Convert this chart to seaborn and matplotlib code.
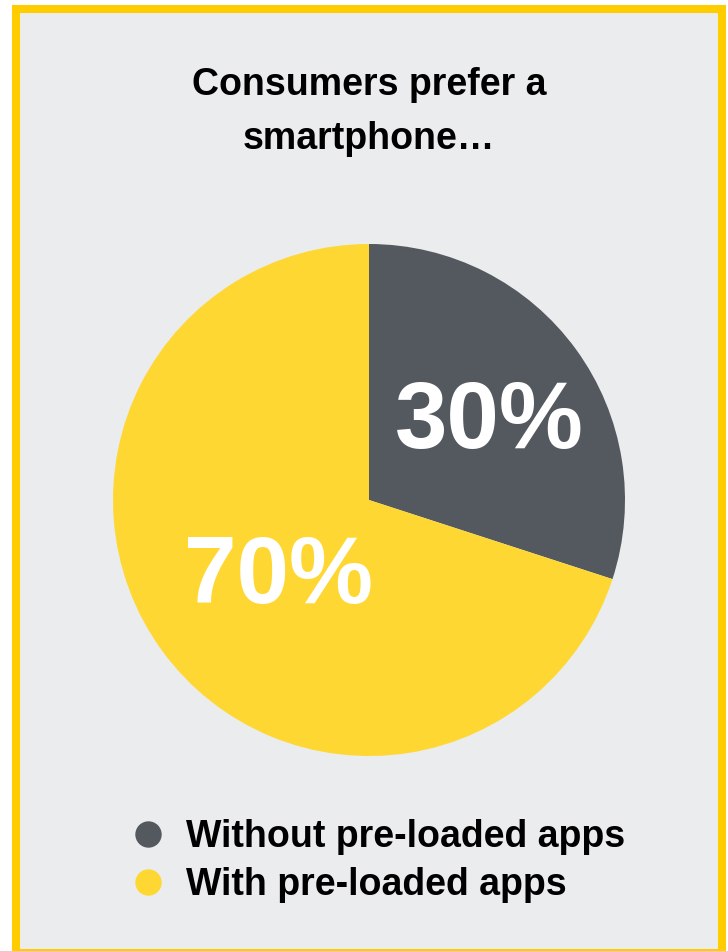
import matplotlib
matplotlib.use("Agg")
import matplotlib.pyplot as plt
import seaborn as sns
from matplotlib.patches import Rectangle
from matplotlib.lines import Line2D

categories = ["Without pre-loaded apps", "With pre-loaded apps"]
values = [30, 70]
labels = ["30%", "70%"]
colors = ["#54585F", "#FFD733"]
title = "Consumers prefer a\nsmartphone\u2026"

sns.set_theme(style="white")
plt.rcParams['font.family'] = ['Liberation Sans', 'DejaVu Sans']
plt.rcParams['text.color'] = 'black'

W, H = 728, 951
fig = plt.figure(figsize=(W / 100, H / 100), dpi=100)
fig.patch.set_facecolor("white")

# background panel with yellow frame
fig.patches.append(Rectangle((16 / W, 1 - 953 / H), (722 - 16) / W, (953 - 9) / H,
                             transform=fig.transFigure, facecolor="#EBECEE",
                             edgecolor="#FFCC00", linewidth=5.8, zorder=-10))

fig.text(369 / W, 1 - 112 / H, title, ha="center", va="center", fontsize=27,
         fontweight="bold", color="black", linespacing=1.65)

cx, cy, r = 369, 500, 256
ax = fig.add_axes([(cx - r) / W, 1 - (cy + r) / H, 2 * r / W, 2 * r / H])
ax.set_facecolor("none")
ax.set_zorder(5)
wedges, _ = ax.pie(values, colors=colors, startangle=90, counterclock=False,
                   wedgeprops=dict(linewidth=0))
ax.set_xlim(-1, 1)
ax.set_ylim(-1, 1)
ax.set_aspect("equal")

label_pos = [((489.5 - cx) / r, (cy - 448) / r), ((278 - cx) / r, (cy - 603) / r)]
for lab, (x, y) in zip(labels, label_pos):
    ax.text(x, y, lab, ha="center", va="baseline", fontsize=68, fontweight="bold",
            color="white")

handles = [Line2D([0], [0], marker="o", linestyle="none", markersize=19,
                  markerfacecolor=c, markeredgewidth=0) for c in colors]
leg = fig.legend(handles, categories, loc="upper left",
                 bbox_to_anchor=(114 / W, 1 - 804 / H), frameon=False,
                 prop=dict(size=27, weight="bold"), handletextpad=0.53,
                 labelspacing=0.33, handlelength=1.0, borderaxespad=0)
for t in leg.get_texts():
    t.set_color("black")
leg.set_zorder(6)

fig.savefig("out.png", dpi=100, facecolor=fig.get_facecolor())
